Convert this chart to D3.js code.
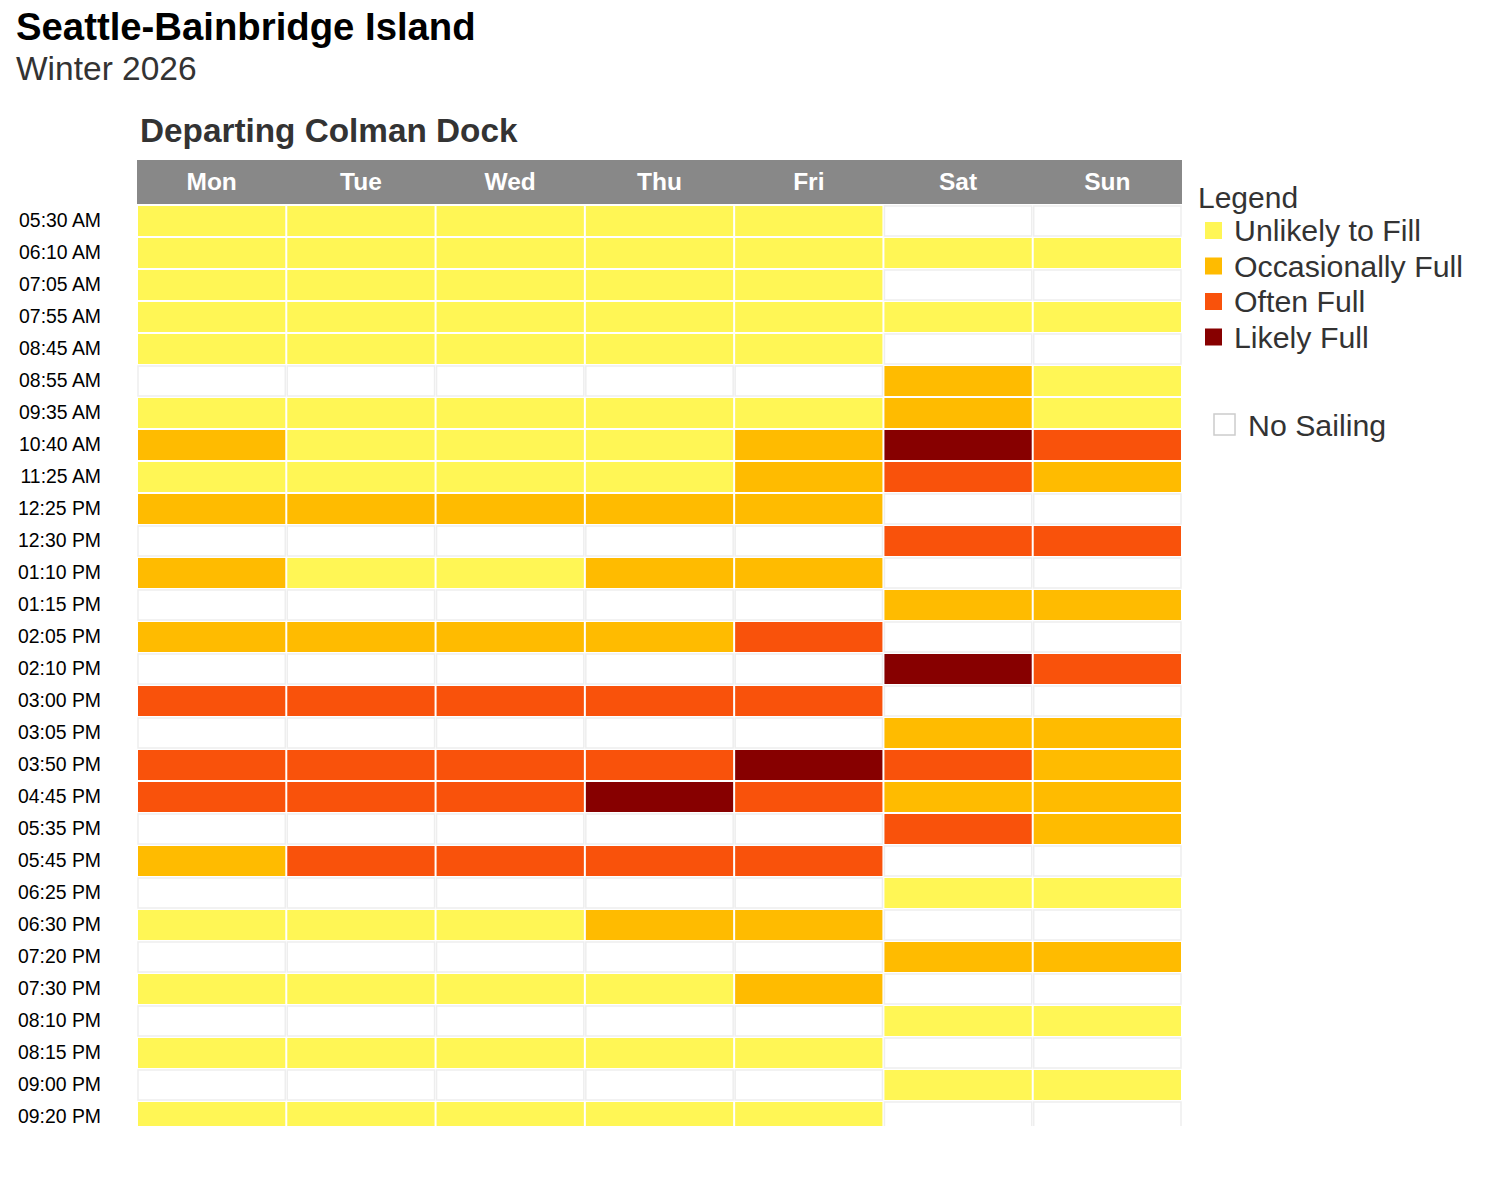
<!DOCTYPE html>
<html>
<head>
<meta charset="utf-8">
<script src="https://cdn.jsdelivr.net/npm/d3@7"></script>
<style>
  body { margin: 0; background: #fff; font-family: Arial, "Liberation Sans", sans-serif; }
</style>
</head>
<body>
<svg id="chart" width="1486" height="1182"></svg>
<script>
// data
var days = ["Mon", "Tue", "Wed", "Thu", "Fri", "Sat", "Sun"];
var times = ["05:30 AM", "06:10 AM", "07:05 AM", "07:55 AM", "08:45 AM", "08:55 AM", "09:35 AM",
    "10:40 AM", "11:25 AM", "12:25 PM", "12:30 PM", "01:10 PM", "01:15 PM", "02:05 PM", "02:10 PM",
    "03:00 PM", "03:05 PM", "03:50 PM", "04:45 PM", "05:35 PM", "05:45 PM", "06:25 PM", "06:30 PM",
    "07:20 PM", "07:30 PM", "08:10 PM", "08:15 PM", "09:00 PM", "09:20 PM"];
// 0 = no sailing, 1 = unlikely, 2 = occasionally, 3 = often, 4 = likely full
// one row per time, Mon..Sun
var levels = [
    [1, 1, 1, 1, 1, 0, 0],
    [1, 1, 1, 1, 1, 1, 1],
    [1, 1, 1, 1, 1, 0, 0],
    [1, 1, 1, 1, 1, 1, 1],
    [1, 1, 1, 1, 1, 0, 0],
    [0, 0, 0, 0, 0, 2, 1],
    [1, 1, 1, 1, 1, 2, 1],
    [2, 1, 1, 1, 2, 4, 3],
    [1, 1, 1, 1, 2, 3, 2],
    [2, 2, 2, 2, 2, 0, 0],
    [0, 0, 0, 0, 0, 3, 3],
    [2, 1, 1, 2, 2, 0, 0],
    [0, 0, 0, 0, 0, 2, 2],
    [2, 2, 2, 2, 3, 0, 0],
    [0, 0, 0, 0, 0, 4, 3],
    [3, 3, 3, 3, 3, 0, 0],
    [0, 0, 0, 0, 0, 2, 2],
    [3, 3, 3, 3, 4, 3, 2],
    [3, 3, 3, 4, 3, 2, 2],
    [0, 0, 0, 0, 0, 3, 2],
    [2, 3, 3, 3, 3, 0, 0],
    [0, 0, 0, 0, 0, 1, 1],
    [1, 1, 1, 2, 2, 0, 0],
    [0, 0, 0, 0, 0, 2, 2],
    [1, 1, 1, 1, 2, 0, 0],
    [0, 0, 0, 0, 0, 1, 1],
    [1, 1, 1, 1, 1, 0, 0],
    [0, 0, 0, 0, 0, 1, 1],
    [1, 1, 1, 1, 1, 0, 0]
];
var legendLabels = ["Unlikely to Fill", "Occasionally Full", "Often Full", "Likely Full"];
var levelColors = ["#ffffff", "#fff655", "#ffbb00", "#f9520b", "#870000"];

var svg = d3.select("#chart");

var gridLeft = 137, gridRight = 1182, gridTop = 205, rowH = 32, clipBottom = 1126;

var x = d3.scaleBand().domain(days).range([gridLeft, gridRight]).padding(0);
var y = d3.scaleBand().domain(times).range([gridTop, gridTop + rowH * times.length]).padding(0);
var color = d3.scaleOrdinal().domain([0, 1, 2, 3, 4]).range(levelColors);

// titles
svg.append("text").attr("x", 16).attr("y", 40)
    .style("font-size", "38.3px").style("font-weight", "bold").style("fill", "#000")
    .text("Seattle-Bainbridge Island");
svg.append("text").attr("x", 16).attr("y", 80)
    .style("font-size", "33.5px").style("fill", "#333")
    .text("Winter 2026");
svg.append("text").attr("x", 140).attr("y", 142)
    .style("font-size", "33.3px").style("font-weight", "bold").style("fill", "#333")
    .text("Departing Colman Dock");

// header band
svg.append("rect").attr("x", gridLeft).attr("y", 160)
    .attr("width", gridRight - gridLeft).attr("height", 44).style("fill", "#888888");
svg.selectAll("text.day").data(days).enter().append("text")
    .attr("class", "day")
    .attr("x", function (d) { return x(d) + x.bandwidth() / 2; })
    .attr("y", 190)
    .attr("text-anchor", "middle")
    .style("font-size", "24.5px").style("font-weight", "bold").style("fill", "#fff")
    .text(function (d) { return d; });

// cells
var cells = [];
levels.forEach(function (row, i) {
    row.forEach(function (v, j) {
        cells.push({ time: times[i], day: days[j], level: v });
    });
});

svg.append("clipPath").attr("id", "gridclip").append("rect")
    .attr("x", 0).attr("y", gridTop).attr("width", 1486).attr("height", clipBottom - gridTop);

var grid = svg.append("g").attr("clip-path", "url(#gridclip)");
grid.selectAll("rect").data(cells).enter().append("rect")
    .attr("x", function (d) { return x(d.day) + 1; })
    .attr("y", function (d) { return y(d.time) + 1; })
    .attr("width", x.bandwidth() - 2)
    .attr("height", y.bandwidth() - 2)
    .style("fill", function (d) { return color(d.level); })
    .style("stroke", function (d) { return d.level === 0 ? "#eeeeee" : "none"; })
    .style("stroke-width", "1.5");

// time labels
var yAxis = d3.axisLeft(y).tickSize(0).tickPadding(0);
var yg = svg.append("g").attr("transform", "translate(101,0)").call(yAxis);
yg.select(".domain").remove();
yg.selectAll("text").style("font-size", "19.4px").style("fill", "#000")
    .style("font-family", "Arial, 'Liberation Sans', sans-serif")
    .attr("dy", "0.33em");

// legend
svg.append("text").attr("x", 1198).attr("y", 208)
    .style("font-size", "30px").style("fill", "#333").text("Legend");
var lg = svg.selectAll("g.leg").data(legendLabels).enter().append("g")
    .attr("class", "leg")
    .attr("transform", function (d, i) { return "translate(1205," + (222 + i * 35.5) + ")"; });
lg.append("rect").attr("width", 17).attr("height", 17)
    .style("fill", function (d, i) { return levelColors[i + 1]; });
lg.append("text").attr("x", 29).attr("y", 19)
    .style("font-size", "30.3px").style("fill", "#333")
    .text(function (d) { return d; });

svg.append("rect").attr("x", 1214).attr("y", 414).attr("width", 21).attr("height", 21)
    .style("fill", "#fff").style("stroke", "#cccccc").style("stroke-width", 1.5);
svg.append("text").attr("x", 1248).attr("y", 436)
    .style("font-size", "30.3px").style("fill", "#333").text("No Sailing");
</script>
</body>
</html>
